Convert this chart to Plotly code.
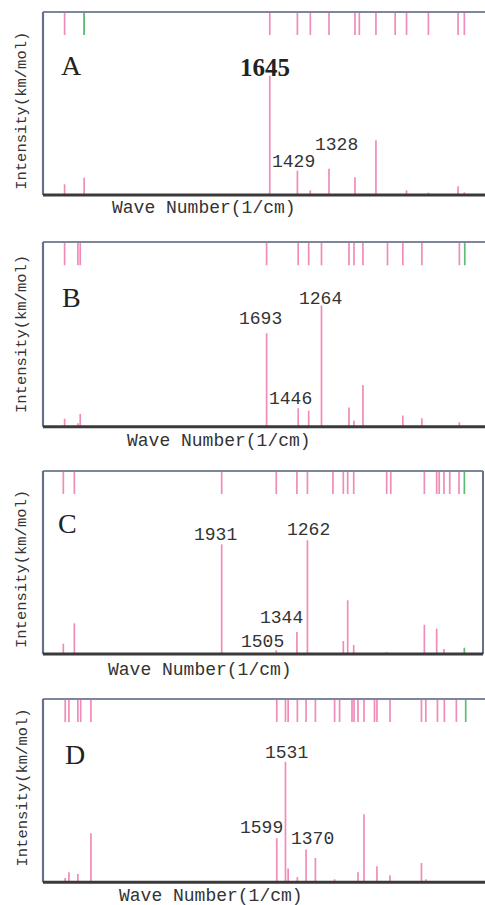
import plotly.graph_objects as go

# ---------------- data (wave number in 1/cm, intensity in relative km/mol) ----------------
A_wn = [3249, 3096, 1645, 1429, 1328, 1182, 979, 945, 815, 665, 576, 405, 173, 124]
A_int = [10.7, 17.3, 119.3, 24.3, 4.7, 26.3, 17.7, 1.0, 54.7, 0.0, 4.7, 2.3, 8.7, 2.7]
A_green_wn = [3096]
A_green_int = [0.0]

B_wn = [3272, 3168, 3150, 1693, 1446, 1364, 1264, 1049, 1010, 940, 748, 628, 479, 186]
B_int = [8.0, 3.3, 12.7, 92.7, 18.3, 15.7, 120.0, 19.0, 6.0, 41.3, 0.0, 11.0, 8.3, 4.3]
B_green_wn = [144]
B_green_int = [1.0]

C_wn = [3166, 3080, 1931, 1505, 1344, 1262, 1063, 982, 948, 901, 644, 612, 350, 254, 234, 197, 152, 80]
C_int = [10.3, 30.7, 109.7, 3.7, 22.0, 113.7, 0.0, 13.0, 53.7, 9.0, 2.0, 0.0, 29.3, 25.3, 1.0, 5.0, 0.0, 0.0]
C_green_wn = [38]
C_green_int = [6.3]

D_wn = [3253, 3224, 3154, 3132, 3052, 1599, 1531, 1510, 1438, 1370, 1297, 1147, 1108, 1011, 995,
        964, 917, 835, 816, 714, 468, 434, 343, 289, 195]
D_int = [4.3, 10.0, 8.3, 0.0, 49.0, 44.0, 120.3, 13.7, 5.3, 32.7, 24.3, 3.0, 0.0, 0.0, 0.0,
         10.0, 68.0, 1.0, 16.0, 7.0, 19.3, 3.0, 1.0, 1.0, 0.0]
D_green_wn = [122]
D_green_int = [1.0]

# peak labels: (text, wave number of label centre, intensity level of label centre)
A_labels = [("1645", 1686, 128), ("1429", 1460, 33), ("1328", 1125, 50)]
B_labels = [("1693", 1741, 107), ("1264", 1273, 127), ("1446", 1507, 27)]
C_labels = [("1931", 1983, 119), ("1262", 1250, 124), ("1344", 1468, 36), ("1505", 1609, 12)]
D_labels = [("1531", 1523, 129), ("1599", 1718, 54), ("1370", 1321, 43)]

panel_names = ["A", "B", "C", "D"]

# ---------------- layout parameters ----------------
W, H = 485, 905
YMAX = 183.0
TICK_LEN = 23.0
PINK = "#F08CB9"
GREEN = "#5DBB73"
TEXT = "#333333"

panels = [
    dict(name="A", wn=A_wn, inten=A_int, gwn=A_green_wn, gint=A_green_int, labels=A_labels,
         off=3753.3, top=12, bot=195, right=486, big_first=True, letter_pos=(3192, 130),
         xt=(204, 208), yt=110.8),
    dict(name="B", wn=B_wn, inten=B_int, gwn=B_green_wn, gint=B_green_int, labels=B_labels,
         off=3776.5, top=242, bot=426.7, right=486, big_first=False, letter_pos=(3215, 128),
         xt=(218.5, 440.7), yt=334),
    dict(name="C", wn=C_wn, inten=C_int, gwn=C_green_wn, gint=C_green_int, labels=C_labels,
         off=3660.0, top=471, bot=654, right=483, big_first=False, letter_pos=(3130, 131),
         xt=(199.7, 670), yt=569),
    dict(name="D", wn=D_wn, inten=D_int, gwn=D_green_wn, gint=D_green_int, labels=D_labels,
         off=3762.0, top=699, bot=882.3, right=486, big_first=False, letter_pos=(3177, 128),
         xt=(211, 895.5), yt=787.5),
]

LEFT_PX = 43
SLOPE = 7.8  # 1/cm per pixel

fig = go.Figure()
shapes = []
annotations = []
layout_axes = {}

for i, p in enumerate(panels):
    k = "" if i == 0 else str(i + 1)
    xa, ya = "x" + k, "y" + k

    # intensity stems
    X, Y = [], []
    for x, y in zip(p["wn"], p["inten"]):
        if y > 0:
            X += [x, x, None]
            Y += [0, y, None]
    fig.add_trace(go.Scatter(x=X, y=Y, mode="lines", line=dict(color=PINK, width=1.7),
                             xaxis=xa, yaxis=ya, hoverinfo="skip", showlegend=False))
    # green stems
    X, Y = [], []
    for x, y in zip(p["gwn"], p["gint"]):
        if y > 0:
            X += [x, x, None]
            Y += [0, y, None]
    if X:
        fig.add_trace(go.Scatter(x=X, y=Y, mode="lines", line=dict(color=GREEN, width=1.7),
                                 xaxis=xa, yaxis=ya, hoverinfo="skip", showlegend=False))
    # top marker strip
    X, Y = [], []
    for x in p["wn"]:
        X += [x, x, None]
        Y += [YMAX - TICK_LEN, YMAX, None]
    fig.add_trace(go.Scatter(x=X, y=Y, mode="lines", line=dict(color=PINK, width=1.7),
                             xaxis=xa, yaxis=ya, hoverinfo="skip", showlegend=False))
    X, Y = [], []
    for x in p["gwn"]:
        X += [x, x, None]
        Y += [YMAX - TICK_LEN, YMAX, None]
    fig.add_trace(go.Scatter(x=X, y=Y, mode="lines", line=dict(color=GREEN, width=1.7),
                             xaxis=xa, yaxis=ya, hoverinfo="skip", showlegend=False))

    xr = [p["off"] - SLOPE * LEFT_PX, p["off"] - SLOPE * p["right"]]
    ydom = [1 - p["bot"] / H, 1 - p["top"] / H]
    xdom = [LEFT_PX / W, min(1.0, p["right"] / W)]
    axis_common = dict(showgrid=False, zeroline=False, showticklabels=False, ticks="",
                       showline=False, fixedrange=True)
    layout_axes["xaxis" + k] = dict(domain=xdom, range=xr, anchor=ya, **axis_common)
    layout_axes["yaxis" + k] = dict(domain=ydom, range=[0, YMAX], anchor=xa, **axis_common)

    # frame
    xd, yd = xa + " domain", ya + " domain"
    shapes.append(dict(type="line", xref=xd, yref=yd, x0=0, x1=1, y0=1, y1=1,
                       line=dict(color="#7D869C", width=2)))
    shapes.append(dict(type="line", xref=xd, yref=yd, x0=0, x1=0, y0=0, y1=1,
                       line=dict(color="#66708A", width=2.2)))
    if p["right"] < W:
        shapes.append(dict(type="line", xref=xd, yref=yd, x0=1, x1=1, y0=0, y1=1,
                           line=dict(color="#66708A", width=2)))
    shapes.append(dict(type="line", xref=xd, yref=yd, x0=0, x1=1, y0=0, y1=0,
                       line=dict(color="#3A3A3A", width=3)))

    # panel letter
    annotations.append(dict(text=p["name"], x=p["letter_pos"][0], y=p["letter_pos"][1],
                            xref=xa, yref=ya, showarrow=False, xanchor="center", yanchor="middle",
                            font=dict(family="Liberation Serif", size=28, color="#222222")))
    # peak labels
    for j, (t, lx, ly) in enumerate(p["labels"]):
        if p["big_first"] and j == 0:
            txt, fnt = "<b>" + t + "</b>", dict(family="Liberation Serif", size=25, color="#222222")
        else:
            txt, fnt = t, dict(family="Liberation Mono", size=18, color=TEXT)
        annotations.append(dict(text=txt, x=lx, y=ly, xref=xa, yref=ya, showarrow=False,
                                xanchor="center", yanchor="middle", font=fnt))
    # axis titles
    annotations.append(dict(text="Wave Number(1/cm)", x=p["xt"][0] / W, y=1 - p["xt"][1] / H,
                            xref="paper", yref="paper", showarrow=False, xanchor="center",
                            yanchor="middle",
                            font=dict(family="Liberation Mono", size=18, color=TEXT)))
    annotations.append(dict(text="Intensity(km/mol)", x=22 / W, y=1 - p["yt"] / H,
                            xref="paper", yref="paper", showarrow=False, xanchor="center",
                            yanchor="middle", textangle=-90,
                            font=dict(family="Liberation Mono", size=15.5, color=TEXT)))

fig.update_layout(
    width=W, height=H,
    margin=dict(l=0, r=0, t=0, b=0),
    paper_bgcolor="white", plot_bgcolor="white",
    shapes=shapes, annotations=annotations, showlegend=False,
    **layout_axes,
)

fig.write_html("out.html", config={"displayModeBar": False},
               post_script="document.body.style.margin='0';document.body.style.overflow='hidden';")
